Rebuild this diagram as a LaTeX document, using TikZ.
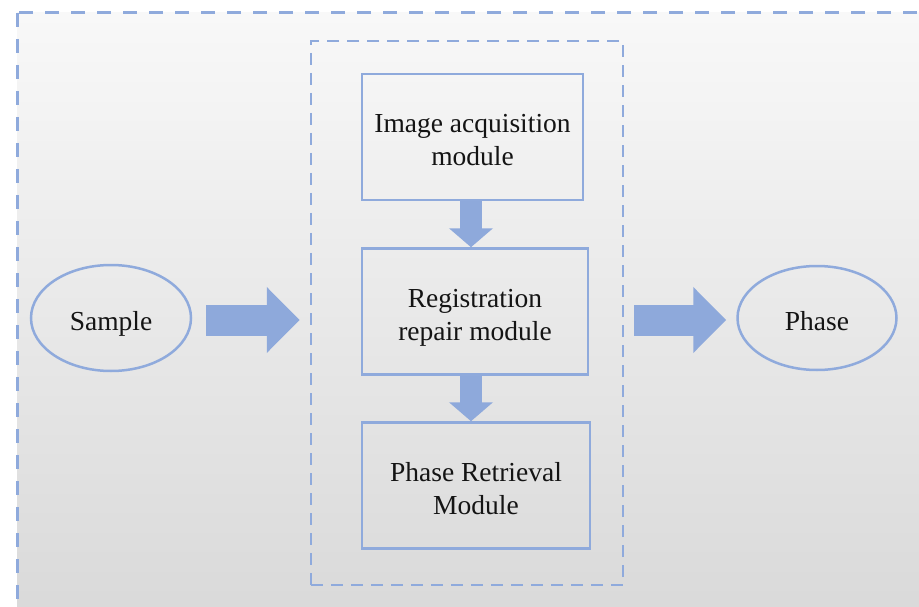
\documentclass[tikz,border=0pt]{standalone}
\usepackage{fontspec}
\setmainfont{Liberation Serif}
\usepackage{xcolor}
\usepackage{tikz}
\usetikzlibrary{arrows.meta,positioning,shapes.geometric}
\definecolor{pfBlue}{HTML}{8FAADC}
\definecolor{pfArrow}{HTML}{8EA9DB}
\definecolor{pfInk}{HTML}{141414}
\definecolor{pfTop}{HTML}{F8F8F8}
\definecolor{pfBottom}{HTML}{D8D8D8}
\tikzset{
  pf diagram/.style={x=1pt, y=-1pt, font=\fontsize{27.5}{33}\selectfont, text=pfInk},
  pf box/.style={draw=pfBlue, line width=2.5pt, align=center, inner sep=0pt,
    minimum height=126pt, text height=58pt, text depth=0pt},
  pf oval/.style={ellipse, draw=pfBlue, line width=2.5pt, inner sep=0pt,
    text height=25pt, text depth=0pt},
  pf frame/.style={draw=pfBlue, line width=2.5pt, dash pattern=on 12pt off 8pt,
    minimum width=312pt, minimum height=544pt, inner sep=0pt},
  pf outer/.style={draw=pfBlue, line width=3pt, dash pattern=on 14pt off 12pt,
    top color=pfTop, bottom color=pfBottom},
  pf flow/.style={draw=pfArrow, line width=31pt,
    -{Triangle[length=33pt, width=64pt]}},
  pf down/.style={draw=pfArrow, line width=22pt,
    -{Triangle[length=19pt, width=43pt]}}
}

\begin{document}
\begin{tikzpicture}[pf diagram]
\clip (0,0) rectangle (919,607);
\fill[white] (0,0) rectangle (919,607);
\path[pf outer] (17,13) rectangle (945,640);

\node[pf frame] (frame) at (467,313) {};
\node[pf box, minimum width=221pt] (acquire) at (472.5,137) {Image acquisition\\module};
\node[pf box, minimum width=226pt] (repair) at (475,311.5) {Registration\\repair module};
\node[pf box, minimum width=228pt] (retrieve) at (476,485.5) {Phase Retrieval\\Module};

\node[pf oval, minimum width=160pt, minimum height=106pt] (sample) at (111,318) {Sample};
\node[pf oval, minimum width=159pt, minimum height=104pt] (phase) at (817,318) {Phase};

\draw[pf flow, shorten <=14pt, shorten >=10pt] ([yshift=-2pt]sample.east) -- ([yshift=-2pt]frame.west |- sample.east);
\draw[pf flow, shorten <=10pt, shorten >=10pt] ([yshift=-2pt]frame.east |- phase.west) -- ([yshift=-2pt]phase.west);

\draw[pf down] ([xshift=-1.5pt]acquire.south) -- ([xshift=-1.5pt]acquire.south |- repair.north);
\draw[pf down] ([xshift=-4pt]repair.south) -- ([xshift=-4pt]repair.south |- retrieve.north);
\end{tikzpicture}
\end{document}
